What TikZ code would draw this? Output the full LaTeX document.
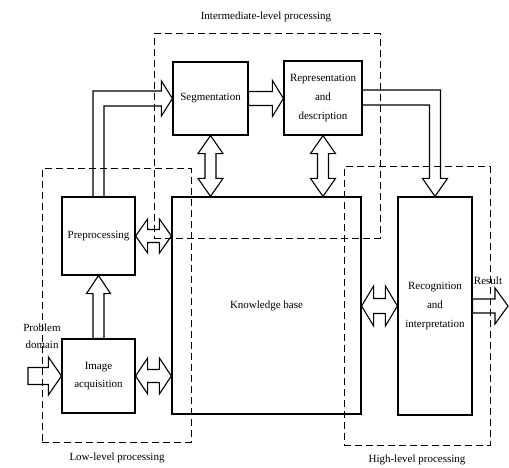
\documentclass[tikz,border=0pt]{standalone}
\usepackage{fontspec}
\setmainfont{Liberation Serif}
\usetikzlibrary{calc}
\tikzset{
  box/.style={draw, line width=1.2pt, inner sep=0pt, align=center,
    font=\fontsize{11}{18.8}\selectfont},
  region/.style={draw, line width=1pt, dash pattern=on 7pt off 4pt, inner sep=0pt},
  lbl/.style={inner sep=0pt, align=center, font=\fontsize{11}{17.5}\selectfont},
  blk/.style={draw, line width=1.1pt, line join=miter, fill=none}
}
% horizontal double arrow: #1 left tip, #2 right tip, #3 shaft half, #4 head half, #5 head length
\newcommand\hdarrow[5]{%
  \draw[blk] let \p1=(#1), \p2=(#2) in
  (\x1,\y1) -- (\x1+#5,\y1+#4) -- (\x1+#5,\y1+#3) -- (\x2-#5,\y1+#3) -- (\x2-#5,\y1+#4)
  -- (\x2,\y1) -- (\x2-#5,\y1-#4) -- (\x2-#5,\y1-#3) -- (\x1+#5,\y1-#3) -- (\x1+#5,\y1-#4) -- cycle;}
% vertical double arrow: #1 top tip, #2 bottom tip
\newcommand\vdarrow[5]{%
  \draw[blk] let \p1=(#1), \p2=(#2) in
  (\x1,\y1) -- (\x1+#4,\y1-#5) -- (\x1+#3,\y1-#5) -- (\x1+#3,\y2+#5) -- (\x1+#4,\y2+#5)
  -- (\x1,\y2) -- (\x1-#4,\y2+#5) -- (\x1-#3,\y2+#5) -- (\x1-#3,\y1-#5) -- (\x1-#4,\y1-#5) -- cycle;}
% horizontal single arrow to the right: #1 tail, #2 tip
\newcommand\hsarrow[5]{%
  \draw[blk] let \p1=(#1), \p2=(#2) in
  (\x1,\y1+#3) -- (\x2-#5,\y1+#3) -- (\x2-#5,\y1+#4) -- (\x2,\y1) -- (\x2-#5,\y1-#4)
  -- (\x2-#5,\y1-#3) -- (\x1,\y1-#3) -- cycle;}
% vertical single arrow upwards: #1 tail (bottom), #2 tip (top)
\newcommand\vsarrow[5]{%
  \draw[blk] let \p1=(#1), \p2=(#2) in
  (\x1-#3,\y1) -- (\x1-#3,\y2-#5) -- (\x1-#4,\y2-#5) -- (\x1,\y2) -- (\x1+#4,\y2-#5)
  -- (\x1+#3,\y2-#5) -- (\x1+#3,\y1) -- cycle;}
\begin{document}
\begin{tikzpicture}[x=1pt, y=-1pt]
\fill[white] (0,0) rectangle (509,468);
\useasboundingbox (0,0) rectangle (509,468);

% processing regions
\node[region, minimum width=226pt, minimum height=204pt] (inter) at (267,136) {};
\node[region, minimum width=149pt, minimum height=273pt] (low) at (116.5,305.5) {};
\node[region, minimum width=146pt, minimum height=278pt] (high) at (417,306) {};

% blocks
\node[box, minimum width=75pt, minimum height=73pt] (seg) at (210.5,98.5) {Segmentation};
\node[box, minimum width=78pt, minimum height=74pt] (rep) at (323,98) {Representation\\and\\description};
\node[box, minimum width=73pt, minimum height=78pt] (pre) at (98.5,236) {Preprocessing};
\node[box, minimum width=73pt, minimum height=74pt] (img) at (98.5,376) {Image\\acquisition};
\node[box, minimum width=189pt, minimum height=217pt] (kb) at (266.5,305.5) {Knowledge base};
\node[box, minimum width=74pt, minimum height=218pt] (rec) at (435,306) {Recognition\\and\\interpretation};

% labels
\node[lbl] (tinter) at (266,17) {Intermediate-level processing};
\node[lbl] (tlow) at (117,458) {Low-level processing};
\node[lbl] (thigh) at (417,460) {High-level processing};
\node[lbl] (tprob) at (42,336) {Problem\\domain};
\node[lbl] (tres) at (488,281) {Result};

\coordinate (probtail) at (28,376);
\coordinate (result) at (508,308);

% bent arrow: preprocessing -> segmentation
\draw[blk] ($(pre.north)+(-5.5pt,0pt)$) |- ($(seg.west)+(-11pt,7.5pt)$) -- ++(0pt,10pt)
  -- (seg.west) -- ++(-11pt,-17.5pt) -- ++(0pt,10pt) -| ($(pre.north)+(5.5pt,0pt)$);
% segmentation -> representation
\hsarrow{seg.east}{seg.east -| rep.west}{7pt}{18pt}{11pt}
% bent arrow: representation -> recognition
\draw[blk] ($(rep.east)+(0pt,8pt)$) -| ($(rec.north)+(5.5pt,18pt)$) -- ++(7pt,0pt)
  -- (rec.north) -- ++(-12.5pt,18pt) -- ++(7pt,0pt) |- ($(rep.east)+(0pt,-7pt)$);
% knowledge base links
\vdarrow{seg.south}{seg.south |- kb.north}{5.5pt}{12.5pt}{18pt}
\vdarrow{rep.south}{rep.south |- kb.north}{5.5pt}{12.5pt}{18pt}
\hdarrow{pre.east}{pre.east -| kb.west}{6.5pt}{17pt}{12pt}
\hdarrow{img.east}{img.east -| kb.west}{6.5pt}{18pt}{12pt}
\hdarrow{kb.east |- rec.west}{rec.west}{7.5pt}{20pt}{12pt}
% image acquisition -> preprocessing
\vsarrow{img.north}{pre.south}{5.5pt}{12pt}{18pt}
% problem domain -> image acquisition
\hsarrow{probtail}{img.west}{8.5pt}{19pt}{13pt}
% recognition -> result
\hsarrow{rec.east}{result}{7pt}{18pt}{13pt}
\end{tikzpicture}
\end{document}
